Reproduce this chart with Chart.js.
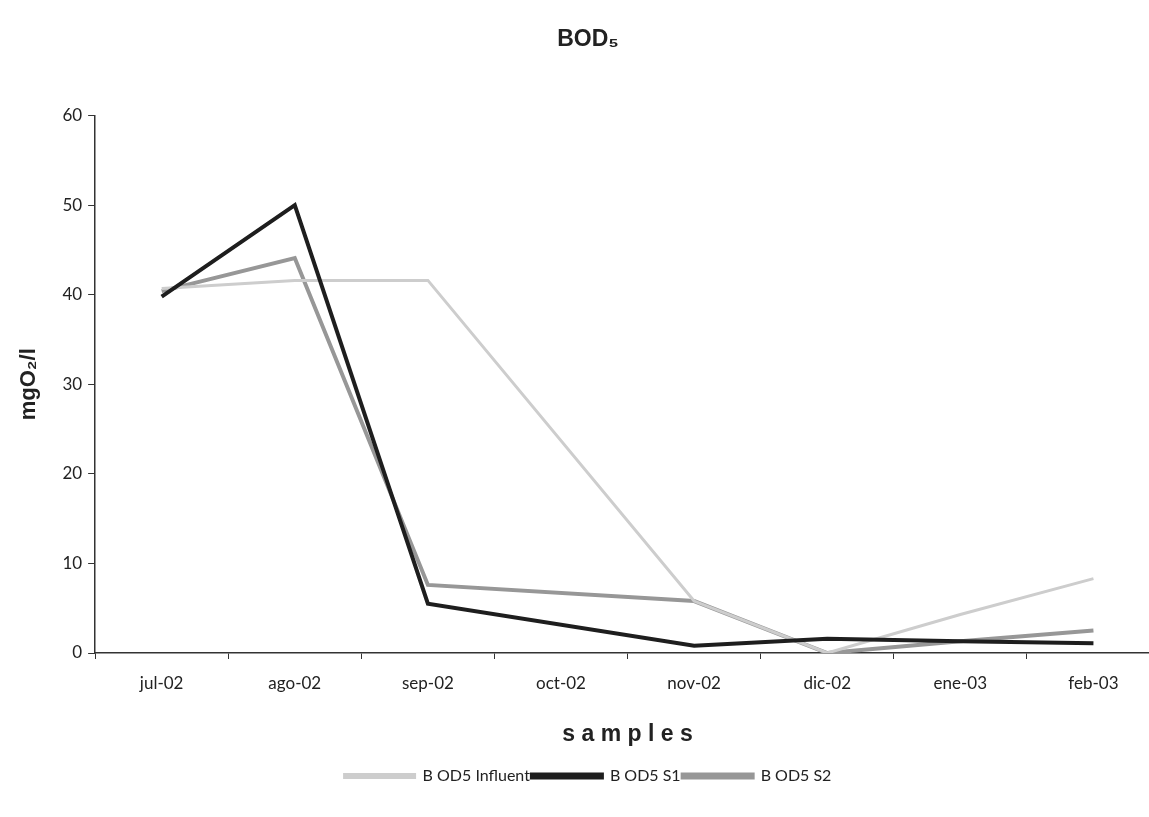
<!DOCTYPE html>
<html>
<head>
<meta charset="utf-8">
<script src="https://cdn.jsdelivr.net/npm/chart.js@4"></script>
<style>
  html, body { margin: 0; padding: 0; background: #fff; overflow: hidden; }
  #wrap { width: 1160px; height: 817px; }
</style>
</head>
<body>
<div id="wrap"><canvas id="bodChart"></canvas></div>
<script>
// categorias (meses) y valores
const months = ['jul-02', 'ago-02', 'sep-02', 'oct-02', 'nov-02', 'dic-02', 'ene-03', 'feb-03'];
const influent = [40.7, 41.6, 41.6, null, 5.8, 0, 4.3, 8.3];
const s1 = [39.8, 50, 5.5, null, 0.8, 1.6, 1.3, 1.1];
const s2 = [40.4, 44.1, 7.6, null, 5.8, 0, 1.3, 2.5];
const yTicks = [0, 10, 20, 30, 40, 50, 60];

const tickFont = { family: 'Lato', size: 17 };

const data1 = {
    labels: months,
    datasets: [
        {
            label: 'B OD5 Influent',
            data: influent,
            borderColor: '#cdcdcd',
            backgroundColor: '#cdcdcd',
            borderWidth: 3,
            order: 1,
        },
        {
            label: 'B OD5 S1',
            data: s1,
            borderColor: '#1e1e1e',
            backgroundColor: '#1e1e1e',
            borderWidth: 4,
            order: 0,
        },
        {
            label: 'B OD5 S2',
            data: s2,
            borderColor: '#979797',
            backgroundColor: '#979797',
            borderWidth: 4,
            order: 2,
        },
    ],
};

const config = {
    type: 'line',
    data: data1,
    options: {
        responsive: true,
        maintainAspectRatio: false,
        animation: false,
        spanGaps: true,
        elements: { point: { radius: 0 }, line: { tension: 0 } },
        layout: { padding: { left: 16, right: 0, bottom: 23 } },
        plugins: {
            title: {
                display: true,
                text: 'BOD₅',
                color: '#222',
                font: { family: 'Liberation Sans', size: 23, weight: 'bold' },
                padding: { top: 26, bottom: 62 },
            },
            legend: {
                position: 'bottom',
                labels: {
                    color: '#222',
                    font: { family: 'Lato', size: 16 },
                    boxWidth: 70,
                    boxHeight: 3,
                    padding: 2,
                    sort: (a, b) => a.datasetIndex - b.datasetIndex,
                },
            },
            tooltip: { enabled: false },
        },
        scales: {
            x: {
                offset: true,
                grid: { display: true, offset: true, drawOnChartArea: false, drawTicks: true, tickLength: 6, color: '#333' },
                border: { color: '#333', width: 1.5 },
                ticks: { color: '#222', font: tickFont, padding: 14, maxRotation: 0 },
                title: {
                    display: true,
                    text: 's a m p l e s',
                    color: '#222',
                    font: { family: 'Liberation Sans', size: 23, weight: 'bold' },
                    padding: { top: 13, bottom: 18 },
                },
            },
            y: {
                min: 0,
                max: 60,
                afterBuildTicks: (axis) => { axis.ticks = yTicks.map(v => ({ value: v })); },
                grid: { display: true, drawOnChartArea: false, drawTicks: true, tickLength: 7, color: '#333' },
                border: { color: '#333', width: 1.5 },
                ticks: { color: '#222', font: tickFont, padding: 6 },
                title: {
                    display: true,
                    text: 'mgO₂/l',
                    color: '#222',
                    font: { family: 'Liberation Sans', size: 22, weight: 'bold' },
                    padding: { top: 0, bottom: 14 },
                },
            },
        },
    },
};

var ctx = document.getElementById('bodChart').getContext('2d');
var bodChart = new Chart(ctx, config);
</script>
</body>
</html>
